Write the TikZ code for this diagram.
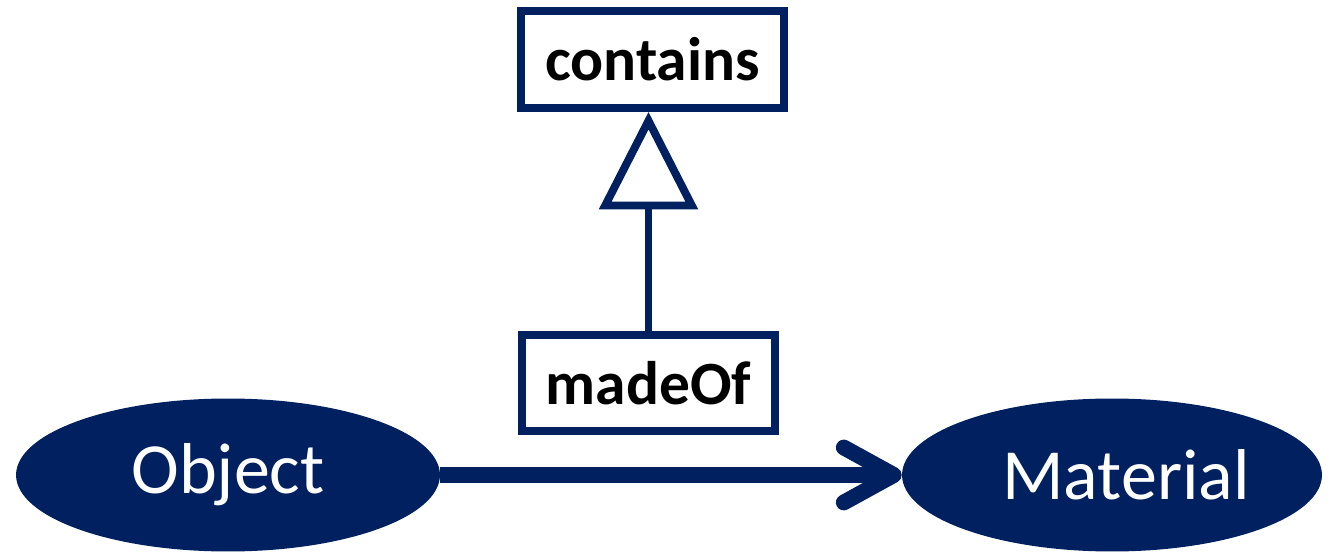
\documentclass[tikz,border=0pt]{standalone}
\usepackage{fontspec}
\setmainfont{Carlito}
\usetikzlibrary{shapes.geometric,arrows.meta}
\definecolor{navy}{RGB}{0,32,96}
\begin{document}
\begin{tikzpicture}[x=0.02cm,y=-0.02cm,
  propbox/.style={draw=navy, line width=4.5pt, rectangle, inner sep=0pt,
    font=\fontsize{35}{42}\selectfont\bfseries},
  classnode/.style={ellipse, fill=navy, text=white, inner sep=0pt,
    minimum width=8.48cm, minimum height=3.06cm, font=\fontsize{41}{49}\selectfont}]
\useasboundingbox (0,0) rectangle (1332,553);

\node[propbox, minimum width=5.26cm, minimum height=1.94cm] (contains) at (652.5,59.5) {contains};
\node[propbox, minimum width=5.06cm, minimum height=1.92cm] (madeof) at (648.5,383) {madeOf};

\node[classnode] (object) at (228,475) {Object};
\node[classnode, minimum width=8.4cm] (material) at (1112,475) {\hspace*{0.56cm}Material};

\path[draw=navy, line width=4.5pt, -{Triangle[open, length=1.95cm, width=1.95cm]}] (madeof.north) -- (madeof.north |- contains.south);
\path[draw=navy, line width=9pt, -{Straight Barb[length=1cm, width=1.1cm, round]}] (object) -- (material);
\end{tikzpicture}
\end{document}
